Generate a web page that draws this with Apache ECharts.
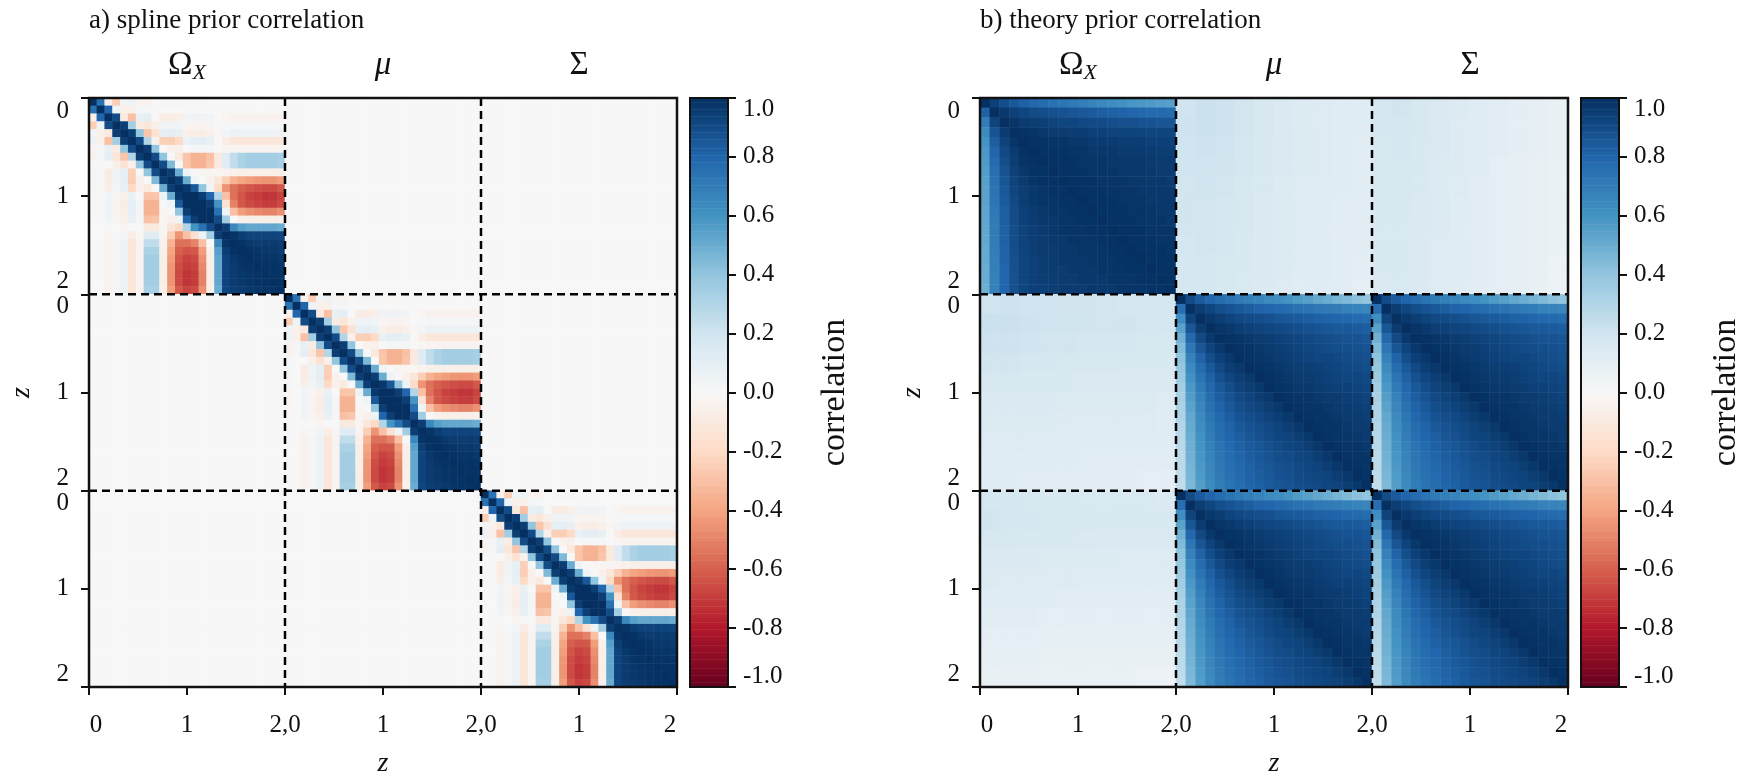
<!DOCTYPE html>
<html>
<head>
<meta charset="utf-8">
<script src="https://cdn.jsdelivr.net/npm/echarts@6/dist/echarts.min.js"></script>
<style>
  html, body { margin: 0; padding: 0; background: #ffffff; }
  #chart { width: 1746px; height: 779px; }
</style>
</head>
<body>
<div id="chart"></div>
<script>
// ---------------- text ----------------
const panelTitles = ['a) spline prior correlation', 'b) theory prior correlation'];
const blockHeaders = ['{o|Ω}{s|X}', '{m|μ}', '{g|Σ}'];
const xTickLabels = ['0', '1', '2,0', '1', '2,0', '1', '2'];
const yTickLabels = ['0', '1', '2\n0', '1', '2\n0', '1', '2'];
const axisTitle = 'z';
const colorbarTitle = 'correlation';
const blockEdges = [2, 4];          // block boundaries on the 0..6 tick scale

// RdBu diverging colour scale, -1 (red) .. +1 (blue)
const rdBu = ['#67001f', '#b2182b', '#d6604d', '#f4a582', '#fddbc7', '#f7f7f7',
              '#d1e5f0', '#92c5de', '#4393c3', '#2166ac', '#053061'];

// ---------------- panel a: spline prior ----------------
// One diagonal block (25 z-cells, z = 0..2), correlation in percent.
// Row r lists the values for columns r..24 (the block is symmetric).
const splineBlockUpper = [
  [100, 75, -5, -25, 3, 6, -3, -4, 0, 2, 2, 2, -1, -1, -1, 0, 0, 0, 0, 0, 0, 0, 0, 0, 0],
  [100, 80, 5, -5, -5, 2, 2, 0, 0, 0, 0, 0, 0, 0, 0, 0, 0, 0, 0, 0, 0, 0, 0, 0],
  [100, 90, -10, -30, 8, 10, 0, -8, -8, -6, 3, 4, 4, 3, 0, -2, -4, -4, -4, -4, -4, -4, -4],
  [100, 95, 35, -8, -12, -6, 4, 4, 3, -2, -3, -3, -2, 0, 1, 2, 2, 2, 2, 2, 2, 2],
  [100, 95, 40, -28, -15, 9, 10, 8, -5, -7, -7, -5, -2, 3, 6, 6, 6, 6, 6, 6, 6],
  [100, 90, 30, -5, -24, -25, -20, 7, 10, 10, 8, 0, -7, -12, -12, -12, -12, -12, -12, -12],
  [100, 95, 40, 0, -5, -5, 0, 2, 2, 2, 0, -2, -3, -3, -3, -3, -3, -3, -3],
  [100, 90, 40, 0, -10, -28, -35, -35, -30, -10, 12, 25, 32, 35, 35, 35, 35, 33],
  [100, 90, 45, 0, -28, -35, -35, -28, -10, 12, 25, 32, 35, 35, 35, 35, 33],
  [100, 95, 50, 5, 0, -2, -2, -2, -3, -5, -6, -6, -6, -6, -6, -6],
  [100, 95, 50, 5, 0, -5, -12, -25, -35, -40, -42, -44, -45, -45, -42],
  [100, 97, 85, 40, 5, -20, -45, -55, -60, -63, -65, -66, -66, -62],
  [100, 100, 95, 80, 30, -30, -55, -63, -68, -70, -72, -72, -68],
  [100, 100, 95, 60, -15, -50, -62, -66, -68, -70, -70, -66],
  [100, 100, 75, 5, -30, -42, -46, -48, -50, -50, -46],
  [100, 90, 35, 0, -5, -6, -6, -6, -6, -5],
  [100, 95, 65, 55, 52, 52, 52, 52, 50],
  [100, 98, 95, 93, 93, 93, 93, 92],
  [100, 99, 97, 96, 96, 96, 95],
  [100, 99, 98, 97, 97, 96],
  [100, 99, 98, 98, 97],
  [100, 99, 99, 98],
  [100, 99, 99],
  [100, 99],
  [100]
];
const splineOffDiagonal = 0;   // blocks between different quantities

// ---------------- panel b: theory prior ----------------
// 20 z-cells per block, correlation in percent, rows = first quantity.
const theoryOmegaOmega = [
  [100, 94, 89, 85, 82, 79, 77, 75, 73, 71, 69, 67, 65, 63, 61, 59, 58, 57, 56, 55],
  [82, 100, 97, 94, 92, 90, 89, 88, 87, 86, 85, 84, 83, 82, 81, 80, 79, 78, 78, 77],
  [70, 93, 100, 98, 96, 95, 94, 93, 92, 92, 91, 90, 90, 89, 88, 88, 87, 87, 86, 86],
  [64, 87, 96, 100, 99, 98, 97, 96, 96, 95, 95, 94, 94, 93, 93, 93, 92, 92, 92, 92],
  [60, 83, 93, 98, 100, 99, 99, 98, 98, 97, 97, 96, 96, 96, 95, 95, 95, 94, 94, 94],
  [58, 80, 91, 96, 99, 100, 99, 99, 99, 98, 98, 97, 97, 97, 96, 96, 96, 96, 95, 95],
  [57, 78, 89, 95, 98, 99, 100, 99, 99, 99, 98, 98, 98, 97, 97, 97, 97, 96, 96, 96],
  [56, 76, 87, 94, 97, 99, 99, 100, 99, 99, 99, 98, 98, 98, 97, 97, 97, 97, 96, 96],
  [55, 75, 86, 93, 96, 98, 99, 99, 100, 99, 99, 99, 98, 98, 98, 97, 97, 97, 97, 96],
  [54, 74, 85, 92, 95, 97, 98, 99, 99, 100, 99, 99, 99, 98, 98, 98, 97, 97, 97, 97],
  [54, 73, 84, 91, 95, 97, 98, 98, 99, 99, 100, 99, 99, 99, 98, 98, 98, 97, 97, 97],
  [53, 72, 83, 90, 94, 96, 97, 98, 98, 99, 99, 100, 99, 99, 99, 98, 98, 98, 97, 97],
  [53, 71, 83, 90, 94, 96, 97, 97, 98, 98, 99, 99, 100, 99, 99, 99, 98, 98, 98, 97],
  [52, 71, 82, 89, 93, 95, 96, 97, 98, 98, 98, 99, 99, 100, 99, 99, 99, 98, 98, 98],
  [52, 70, 82, 89, 93, 95, 96, 97, 97, 98, 98, 98, 99, 99, 100, 99, 99, 99, 98, 98],
  [51, 70, 81, 89, 93, 95, 96, 96, 97, 97, 98, 98, 98, 99, 99, 100, 99, 99, 99, 98],
  [51, 69, 81, 88, 92, 94, 95, 96, 97, 97, 97, 98, 98, 98, 99, 99, 100, 99, 99, 99],
  [50, 69, 80, 88, 92, 94, 95, 96, 96, 97, 97, 97, 98, 98, 98, 99, 99, 100, 99, 99],
  [50, 68, 80, 88, 92, 94, 95, 95, 96, 96, 97, 97, 97, 98, 98, 98, 99, 99, 100, 99],
  [49, 68, 80, 88, 92, 94, 94, 95, 96, 96, 96, 97, 97, 97, 98, 98, 98, 99, 99, 100]
];
// shared by the μ–μ, μ–Σ, Σ–μ and Σ–Σ blocks
const theoryMuSigma = [
  [100, 90, 84, 80, 77, 74, 71, 69, 67, 64, 62, 60, 57, 55, 52, 50, 47, 45, 42, 40],
  [76, 100, 95, 92, 89, 87, 85, 83, 81, 80, 78, 77, 75, 74, 72, 71, 70, 68, 67, 66],
  [62, 93, 100, 97, 95, 93, 91, 90, 89, 88, 86, 85, 84, 83, 82, 81, 80, 79, 78, 77],
  [54, 86, 96, 100, 98, 97, 95, 94, 93, 92, 91, 90, 89, 88, 87, 86, 85, 85, 84, 83],
  [48, 79, 91, 97, 100, 99, 98, 97, 96, 95, 94, 93, 92, 91, 90, 89, 88, 87, 87, 86],
  [44, 73, 86, 93, 97, 100, 99, 98, 97, 96, 95, 94, 93, 92, 91, 90, 89, 89, 88, 87],
  [41, 68, 81, 89, 94, 97, 100, 99, 98, 97, 96, 95, 94, 93, 92, 92, 91, 90, 89, 88],
  [39, 64, 77, 85, 91, 95, 97, 100, 99, 98, 97, 96, 95, 95, 94, 93, 92, 91, 90, 89],
  [37, 61, 74, 82, 88, 92, 95, 97, 100, 99, 98, 97, 96, 96, 95, 94, 93, 92, 92, 91],
  [35, 58, 71, 79, 85, 89, 93, 95, 97, 100, 99, 98, 97, 97, 96, 95, 94, 94, 93, 92],
  [33, 56, 68, 77, 83, 87, 91, 93, 95, 97, 100, 99, 98, 98, 97, 96, 96, 95, 94, 93],
  [32, 54, 66, 75, 81, 85, 89, 91, 93, 95, 97, 100, 99, 98, 98, 97, 96, 96, 95, 94],
  [31, 52, 64, 73, 79, 83, 87, 89, 91, 93, 95, 97, 100, 99, 98, 98, 97, 96, 96, 95],
  [30, 51, 63, 71, 77, 81, 85, 87, 89, 91, 93, 95, 97, 100, 99, 98, 98, 97, 96, 96],
  [29, 50, 61, 70, 76, 80, 83, 86, 88, 90, 92, 93, 95, 97, 100, 99, 98, 98, 97, 96],
  [28, 49, 60, 68, 74, 78, 82, 84, 86, 88, 90, 92, 93, 95, 97, 100, 99, 98, 98, 97],
  [27, 48, 59, 67, 73, 77, 80, 83, 85, 87, 89, 90, 92, 93, 95, 97, 100, 99, 98, 98],
  [27, 47, 58, 66, 72, 76, 79, 82, 84, 86, 88, 89, 91, 92, 93, 95, 97, 100, 99, 98],
  [26, 46, 57, 65, 71, 75, 78, 81, 83, 85, 87, 88, 90, 91, 92, 93, 95, 97, 100, 99],
  [25, 45, 56, 64, 70, 74, 77, 80, 82, 84, 86, 87, 89, 90, 91, 92, 93, 95, 97, 100]
];
// coarser 10x10 readings of the weak cross blocks (rows = Ω_X, columns = μ or Σ)
const theoryOmegaMu = [
  [20, 22, 21, 19, 17, 15, 14, 13, 12, 12],
  [21, 22, 21, 19, 17, 15, 14, 13, 12, 12],
  [20, 21, 20, 18, 16, 15, 14, 13, 12, 11],
  [20, 20, 19, 18, 16, 15, 14, 13, 12, 11],
  [19, 20, 19, 17, 16, 14, 13, 12, 12, 11],
  [19, 19, 18, 17, 15, 14, 13, 12, 11, 11],
  [19, 19, 18, 17, 15, 14, 13, 12, 11, 11],
  [18, 19, 18, 16, 15, 14, 13, 12, 11, 11],
  [18, 18, 17, 16, 15, 14, 13, 12, 11, 10],
  [18, 18, 17, 16, 15, 13, 12, 12, 11, 10]
];
const theoryOmegaSigma = [
  [18, 19, 17, 15, 14, 12, 11, 10, 9, 8],
  [18, 18, 17, 15, 13, 12, 11, 10, 9, 8],
  [17, 18, 16, 15, 13, 12, 11, 10, 9, 8],
  [17, 17, 16, 14, 13, 12, 10, 9, 8, 7],
  [17, 17, 16, 14, 13, 11, 10, 9, 8, 7],
  [16, 17, 15, 14, 12, 11, 10, 9, 8, 7],
  [16, 16, 15, 14, 12, 11, 10, 9, 8, 7],
  [16, 16, 15, 13, 12, 11, 10, 9, 8, 7],
  [16, 16, 15, 13, 12, 11, 10, 9, 8, 6],
  [15, 16, 15, 13, 12, 11, 10, 9, 8, 6]
];

// ---------------- assemble the full 3x3 block matrices ----------------
const NB = 3;
function splineValue(r, c) {
  return c >= r ? splineBlockUpper[r][c - r] : splineBlockUpper[c][r - c];
}
const nA = splineBlockUpper.length;
const dataA = [];
for (let bi = 0; bi < NB; bi++) for (let r = 0; r < nA; r++)
  for (let bj = 0; bj < NB; bj++) for (let c = 0; c < nA; c++) {
    const v = bi === bj ? splineValue(r, c) : splineOffDiagonal;
    dataA.push([bj * nA + c, bi * nA + r, v / 100]);
  }

const nB = theoryOmegaOmega.length;
const crossStep = nB / theoryOmegaMu.length;
function theoryValue(bi, r, bj, c) {
  if (bi === 0 && bj === 0) return theoryOmegaOmega[r][c];
  if (bi > 0 && bj > 0) return theoryMuSigma[r][c];
  if (bi === 0) {
    const m = bj === 1 ? theoryOmegaMu : theoryOmegaSigma;
    return m[Math.floor(r / crossStep)][Math.floor(c / crossStep)];
  }
  const m = bi === 1 ? theoryOmegaMu : theoryOmegaSigma;
  return m[Math.floor(c / crossStep)][Math.floor(r / crossStep)];
}
const dataB = [];
for (let bi = 0; bi < NB; bi++) for (let r = 0; r < nB; r++)
  for (let bj = 0; bj < NB; bj++) for (let c = 0; c < nB; c++)
    dataB.push([bj * nB + c, bi * nB + r, theoryValue(bi, r, bj, c) / 100]);

// colour-bar ramp
const cbLevels = 256;
const colorbarData = Array.from({ length: cbLevels }, (_, i) => [0, i, -1 + 2 * (i + 0.5) / cbLevels]);

// ---------------- layout & style ----------------
const SERIF = "'Liberation Serif', 'DejaVu Serif', serif";
const INK = '#111111';
const PLOT_TOP = 98, PLOT_W = 588, PLOT_H = 589, CB_W = 38;
const tickFont = { fontFamily: SERIF, fontSize: 25, color: INK };

const grids = [], xAxes = [], yAxes = [], series = [], heatmapIdx = [];

function addPanel(left, data, nPerBlock) {
  const g = grids.length;
  grids.push({ left, top: PLOT_TOP, width: PLOT_W, height: PLOT_H, show: true, z: 5,
    backgroundColor: 'transparent', borderColor: INK, borderWidth: 2.5, outerBoundsMode: 'none' });
  const cats = Array.from({ length: nPerBlock * NB }, (_, i) => i);

  const xCat = xAxes.length;
  xAxes.push({ type: 'category', gridIndex: g, data: cats, show: false });
  const xVal = xAxes.length;
  xAxes.push({
    type: 'value', gridIndex: g, position: 'bottom', min: 0, max: 6, interval: 1,
    axisLine: { show: false }, splitLine: { show: false },
    axisTick: { show: true, length: 8, lineStyle: { color: INK, width: 2 } },
    axisLabel: {
      margin: 26, showMinLabel: true, showMaxLabel: true,
      formatter: v => {
        const i = Math.round(v), t = xTickLabels[i];
        return i === 0 ? `{l|${t}}` : i === 6 ? `{r|${t}}` : `{c|${t}}`;
      },
      rich: { c: { ...tickFont }, l: { ...tickFont, padding: [0, 0, 0, 14] }, r: { ...tickFont, padding: [0, 14, 0, 0] } }
    },
    name: axisTitle, nameLocation: 'middle', nameGap: 63, nameMoveOverlap: false,
    nameTextStyle: { fontFamily: SERIF, fontSize: 28, fontStyle: 'italic', color: INK }
  });
  xAxes.push({
    type: 'value', gridIndex: g, position: 'top', min: 0, max: 6, interval: 1,
    axisLine: { show: false }, axisTick: { show: false }, splitLine: { show: false },
    axisLabel: {
      margin: 14, showMinLabel: true, showMaxLabel: true,
      formatter: v => { const i = Math.round(v); return i % 2 === 1 ? blockHeaders[(i - 1) / 2] : ''; },
      rich: {
        o: { fontFamily: SERIF, fontSize: 33, lineHeight: 38, color: INK },
        s: { fontFamily: SERIF, fontSize: 22, lineHeight: 22, fontStyle: 'italic', verticalAlign: 'bottom', color: INK },
        m: { fontFamily: SERIF, fontSize: 33, lineHeight: 38, fontStyle: 'italic', color: INK },
        g: { fontFamily: SERIF, fontSize: 33, lineHeight: 38, color: INK }
      }
    }
  });

  const yCat = yAxes.length;
  yAxes.push({ type: 'category', gridIndex: g, data: cats, inverse: true, show: false });
  const yVal = yAxes.length;
  yAxes.push({
    type: 'value', gridIndex: g, position: 'left', min: 0, max: 6, interval: 1, inverse: true,
    axisLine: { show: false }, splitLine: { show: false },
    axisTick: { show: true, length: 8, lineStyle: { color: INK, width: 2 } },
    axisLabel: {
      margin: 20, showMinLabel: true, showMaxLabel: true,
      formatter: v => {
        const i = Math.round(v), parts = yTickLabels[i].split('\n');
        if (i === 0) return `{t|${parts[0]}}`;
        if (i === 6) return `{b|${parts[0]}}`;
        return parts.map(p => `{c|${p}}`).join('\n');
      },
      rich: {
        c: { ...tickFont, lineHeight: 25 },
        t: { ...tickFont, padding: [26, 0, 0, 0] },
        b: { ...tickFont, padding: [0, 0, 26, 0] }
      }
    },
    name: axisTitle, nameLocation: 'middle', nameGap: 53, nameRotate: 90, nameMoveOverlap: false,
    nameTextStyle: { fontFamily: SERIF, fontSize: 28, fontStyle: 'italic', color: INK }
  });

  heatmapIdx.push(series.length);
  series.push({ type: 'heatmap', xAxisIndex: xCat, yAxisIndex: yCat, data, progressive: 0,
    silent: true, emphasis: { disabled: true } });

  const dash = { color: '#000', width: 2.5, type: [8, 5] };
  blockEdges.forEach(e => {
    series.push({ type: 'line', xAxisIndex: xVal, yAxisIndex: yVal, data: [[e, 0], [e, 6]],
      showSymbol: false, silent: true, z: 3, lineStyle: dash });
    series.push({ type: 'line', xAxisIndex: xVal, yAxisIndex: yVal, data: [[0, e], [6, e]],
      showSymbol: false, silent: true, z: 3, lineStyle: dash });
  });
}

function addColorbar(left) {
  const g = grids.length;
  grids.push({ left, top: PLOT_TOP, width: CB_W, height: PLOT_H, show: true, z: 5,
    backgroundColor: 'transparent', borderColor: INK, borderWidth: 2, outerBoundsMode: 'none' });
  const xCat = xAxes.length;
  xAxes.push({ type: 'category', gridIndex: g, data: [0], show: false });
  const yCat = yAxes.length;
  yAxes.push({ type: 'category', gridIndex: g, data: colorbarData.map(d => d[1]), show: false });
  yAxes.push({
    type: 'value', gridIndex: g, position: 'right', min: -1, max: 1, interval: 0.2,
    axisLine: { show: false }, splitLine: { show: false },
    axisTick: { show: true, length: 8, lineStyle: { color: INK, width: 2 } },
    axisLabel: {
      margin: 15, showMinLabel: true, showMaxLabel: true,
      formatter: v => {
        const t = v.toFixed(1);
        if (v > 0.99) return `{t|${t}}`;
        if (v < -0.99) return `{b|${t}}`;
        return `{c|${t}}`;
      },
      rich: {
        c: { ...tickFont },
        t: { ...tickFont, padding: [22, 0, 0, 0] },
        b: { ...tickFont, padding: [0, 0, 22, 0] }
      }
    },
    name: colorbarTitle, nameLocation: 'middle', nameGap: 90, nameRotate: 90, nameMoveOverlap: false,
    nameTextStyle: { fontFamily: SERIF, fontSize: 34, color: INK }
  });
  heatmapIdx.push(series.length);
  series.push({ type: 'heatmap', xAxisIndex: xCat, yAxisIndex: yCat, data: colorbarData,
    progressive: 0, silent: true, emphasis: { disabled: true } });
}

const panelLefts = [89, 980];
addPanel(panelLefts[0], dataA, nA);
addColorbar(panelLefts[0] + PLOT_W + 13);
addPanel(panelLefts[1], dataB, nB);
addColorbar(panelLefts[1] + PLOT_W + 13);

const chart = echarts.init(document.getElementById('chart'), null, { renderer: 'canvas' });
chart.setOption({
  animation: false,
  backgroundColor: '#ffffff',
  textStyle: { fontFamily: SERIF },
  title: panelTitles.map((t, i) => ({
    text: t, left: panelLefts[i], top: 7, padding: 0,
    textStyle: { fontFamily: SERIF, fontSize: 27, fontWeight: 'normal', color: INK }
  })),
  visualMap: {
    type: 'continuous', show: false, min: -1, max: 1, seriesIndex: heatmapIdx, dimension: 2,
    inRange: { color: rdBu }
  },
  grid: grids,
  xAxis: xAxes,
  yAxis: yAxes,
  series
});
</script>
</body>
</html>
